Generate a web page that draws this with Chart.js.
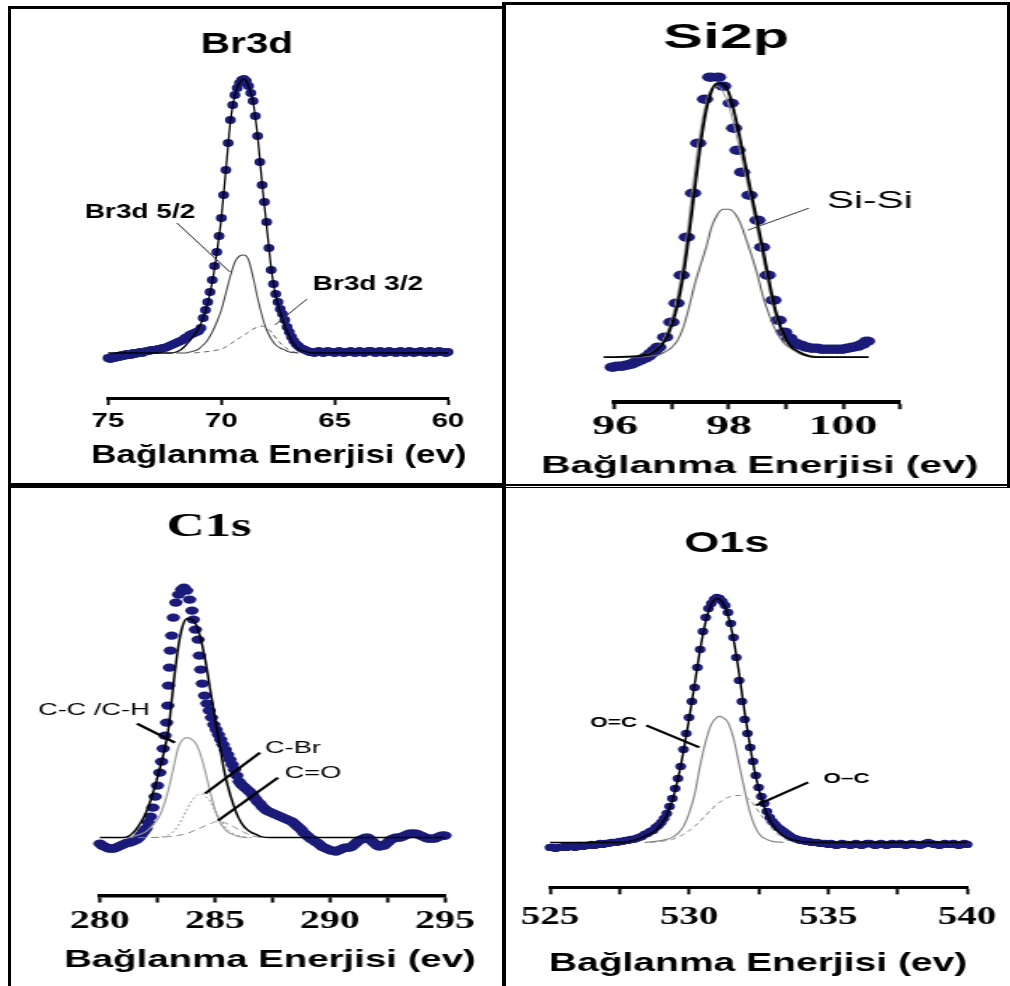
<!DOCTYPE html>
<html lang="tr">
<head>
<meta charset="utf-8">
<title>XPS spektrumları: Br3d, Si2p, C1s, O1s</title>
<script src="https://cdn.jsdelivr.net/npm/chart.js@4.4.1/dist/chart.umd.min.js"></script>
<style>
  html, body { margin: 0; padding: 0; background: #fff; }
  body { position: relative; width: 1010px; height: 986px; overflow: hidden; }
  canvas { position: absolute; transform-origin: 0 0; }
  .cizgi { position: absolute; background: #000; }
</style>
</head>
<body>

<!-- kaynak resim yatayda gerilmiş, bu yüzden tuvaller de scaleX ile geriliyor -->
<canvas id="grafikBr3d" width="337" height="462" style="left:11px; top:11px; transform:scaleX(1.4);"></canvas>
<canvas id="grafikSi2p" width="278" height="476" style="left:508px; top:6px; transform:scaleX(1.7);"></canvas>
<canvas id="grafikC1s" width="295" height="485" style="left:11px; top:492px; transform:scaleX(1.6);"></canvas>
<canvas id="grafikO1s" width="333" height="489" style="left:508px; top:492px; transform:scaleX(1.5);"></canvas>

<!-- çerçeveler -->
<div class="cizgi" style="left:8px; top:6px; width:3px; height:980px;"></div>
<div class="cizgi" style="left:8px; top:6px; width:496px; height:2.5px;"></div>
<div class="cizgi" style="left:502px; top:2px; width:508px; height:3px;"></div>
<div class="cizgi" style="left:502px; top:2px; width:4px; height:984px;"></div>
<div class="cizgi" style="left:1007px; top:2px; width:3px; height:486px;"></div>
<div class="cizgi" style="left:8px; top:483px; width:496px; height:4.5px;"></div>
<div class="cizgi" style="left:506px; top:484px; width:504px; height:1.7px;"></div>
<div class="cizgi" style="left:506px; top:486.8px; width:504px; height:1.5px;"></div>

<script>
const SANS = "'Liberation Sans', Arial, sans-serif";
const SERIF = "'Liberation Serif', 'Times New Roman', serif";
const LACIVERT = "#1b1b7a";
const EKSEN_BASLIGI = "Bağlanma Enerjisi (ev)";

Chart.defaults.font.family = SANS;
Chart.defaults.color = "#000";

// ---- EKSEN ETİKETLERİ ----
const br3dEtiketler = ["75", "70", "65", "60"];
const si2pEtiketler = ["96", "98", "100"];
const c1sEtiketler = ["280", "285", "290", "295"];
const o1sEtiketler = ["525", "530", "535", "540"];

// ---- Br3d ----
// ölçüm noktaları 75 eV'den 60 eV'ye 0.1 eV aralıkla
const br3dBaslangic = 75;
const br3dAdim = -0.1;
const br3dSiddet = [
    40, 39, 41, 40, 42, 41, 43, 42, 44, 43,
    43, 45, 44, 45, 46, 45, 46, 47, 47, 48,
    48, 48, 49, 49, 50, 50, 51, 52, 53, 54,
    55, 56, 57, 58, 60, 61, 63, 64, 65, 66,
    67, 70, 80, 88, 96, 106, 118, 132, 146, 162,
    180, 203, 228, 255, 278, 293, 303, 310, 315, 318,
    319, 317, 312, 305, 297, 282, 262, 236, 213, 196,
    176, 150, 128, 114, 104, 96, 89, 84, 78, 71,
    66, 61, 57, 54, 52, 50, 49, 48, 47, 46,
    46, 45, 46, 47, 46, 45, 46, 47, 46, 46,
    45, 46, 47, 46, 45, 46, 46, 47, 46, 45,
    46, 47, 46, 45, 46, 47, 47, 46, 45, 46,
    47, 46, 45, 46, 47, 46, 46, 45, 46, 47,
    46, 45, 46, 47, 46, 45, 46, 46, 47, 46,
    45, 46, 47, 46, 45, 46, 47, 46, 46, 45,
    46
];
const br3dZarfEnerji = [75, 72.2, 72.0, 71.8, 71.6, 71.4, 71.2, 71.0, 70.8, 70.6, 70.4, 70.2, 70.0, 69.8, 69.6, 69.4, 69.2, 69.0, 68.8, 68.6, 68.4, 68.2, 68.0, 67.8, 67.6, 67.4, 67.2, 67.0, 66.8, 66.6, 66.4, 66.2, 66.0, 60];
const br3dZarfSiddet = [45, 45, 46, 48, 52, 57, 63, 70, 80, 95, 116, 145, 180, 228, 276, 303, 315, 319, 312, 296, 262, 214, 172, 130, 102, 86, 72, 62, 54, 49, 47, 46, 45, 45];
const br3d52Enerji = [72.0, 71.6, 71.4, 71.2, 71.0, 70.8, 70.6, 70.4, 70.2, 70.0, 69.8, 69.6, 69.4, 69.2, 69.0, 68.8, 68.6, 68.4, 68.2, 68.0, 67.8, 67.6, 67.4, 67.2, 67.0, 66.6];
const br3d52Siddet = [45, 45, 46, 47, 49, 53, 58, 66, 76, 88, 105, 122, 136, 142, 143, 138, 121, 100, 82, 68, 59, 53, 50, 48, 46, 45];
const br3d32Enerji = [71.2, 70.8, 70.4, 70.0, 69.8, 69.6, 69.4, 69.2, 69.0, 68.8, 68.6, 68.4, 68.2, 68.0, 67.8, 67.6, 67.4, 67.2, 67.0, 66.8, 66.6];
const br3d32Siddet = [45, 46, 47, 49, 51, 54, 57, 60, 63, 66, 69, 71, 72, 70, 66, 60, 55, 51, 48, 46, 45];

// ---- Si2p ----
const si2pEnerji = [
    95.80, 95.88, 95.96, 96.04, 96.12, 96.20, 96.28, 96.36, 96.44, 96.52,
    96.58, 96.64, 96.70, 96.76, 96.88, 96.99, 97.08, 97.17, 97.26, 97.37,
    97.46, 97.58, 97.67, 97.81, 97.90, 98.03, 98.09, 98.15, 98.23, 98.36,
    98.50, 98.58, 98.68, 98.78, 98.87, 98.97, 99.06, 99.16, 99.26, 99.36,
    99.45, 99.54, 99.63, 99.72, 99.81, 99.90, 99.99, 100.08, 100.17, 100.26,
    100.34, 100.42
];
const si2pSiddet = [
    35, 35, 35, 36, 36, 37, 38, 40, 42, 44,
    46, 49, 52, 55, 65, 80, 99, 127, 165, 209,
    259, 303, 325, 325, 316, 299, 274, 252, 230, 207,
    182, 155, 127, 102, 82, 70, 64, 59, 57, 55,
    54, 54, 53, 53, 53, 53, 53, 54, 55, 56,
    58, 61
];
const si2pZarfEnerji = [95.8, 96.4, 96.5, 96.6, 96.7, 96.8, 96.9, 97.0, 97.1, 97.2, 97.3, 97.4, 97.5, 97.6, 97.7, 97.8, 97.9, 98.0, 98.1, 98.2, 98.3, 98.4, 98.5, 98.6, 98.7, 98.8, 98.9, 99.0, 99.1, 99.2, 99.3, 99.4, 99.5, 100.45];
const si2pZarfSiddet = [45, 46, 47, 48, 51, 56, 64, 78, 98, 128, 168, 214, 258, 292, 312, 319, 318, 309, 288, 262, 234, 206, 179, 151, 122, 95, 76, 63, 55, 51, 48, 46, 45, 45];
const si2pGriEnerji = [96.4, 96.6, 96.8, 97.0, 97.2, 97.4, 97.5, 97.6, 97.7, 97.8, 97.9, 98.0, 98.2, 98.4, 98.6, 98.8, 99.0, 99.2, 99.4, 99.6];
const si2pGriSiddet = [46, 49, 58, 84, 140, 232, 272, 300, 314, 316, 310, 296, 250, 198, 143, 90, 60, 49, 46, 45];
const si2pSiSiEnerji = [96.0, 96.4, 96.6, 96.8, 96.9, 97.0, 97.1, 97.2, 97.3, 97.4, 97.5, 97.6, 97.7, 97.8, 97.9, 98.0, 98.1, 98.2, 98.3, 98.4, 98.5, 98.6, 98.7, 98.8, 98.9, 99.0, 99.2, 99.4, 99.7, 100.4];
const si2pSiSiSiddet = [45, 45, 46, 48, 51, 55, 62, 75, 95, 118, 137, 155, 176, 188, 193, 193, 189, 179, 163, 146, 127, 105, 88, 74, 64, 57, 51, 47, 45, 45];

// ---- C1s ----
const c1sEnerji = [
    280.0, 280.1, 280.2, 280.3, 280.4, 280.5, 280.6, 280.7, 280.8, 280.9,
    281.0, 281.1, 281.2, 281.3, 281.4, 281.5, 281.6, 281.7, 281.8, 281.9,
    282.0, 282.1, 282.2, 282.3, 282.4, 282.5, 282.6, 282.68, 282.75, 282.83,
    282.9, 282.95, 282.98, 283.02, 283.06, 283.12, 283.19, 283.3, 283.42, 283.55,
    283.65, 283.77, 283.9, 284.0, 284.06, 284.15, 284.27, 284.32, 284.38, 284.45,
    284.55, 284.65, 284.75, 284.85, 284.95, 285.05, 285.15, 285.25, 285.35, 285.45,
    285.55, 285.65, 285.75, 285.85, 285.95, 286.05, 286.15, 286.25, 286.35, 286.45,
    286.55, 286.65, 286.75, 286.85, 286.95, 287.05, 287.15, 287.25, 287.35, 287.45,
    287.55, 287.65, 287.75, 287.85, 287.95, 288.05, 288.15, 288.25, 288.35, 288.45,
    288.55, 288.65, 288.75, 288.85, 288.95, 289.05, 289.15, 289.25, 289.35, 289.45,
    289.55, 289.65, 289.75, 289.85, 289.95, 290.05, 290.15, 290.25, 290.35, 290.45,
    290.55, 290.65, 290.75, 290.85, 290.95, 291.05, 291.15, 291.25, 291.35, 291.45,
    291.55, 291.65, 291.75, 291.85, 291.95, 292.05, 292.15, 292.25, 292.35, 292.45,
    292.55, 292.65, 292.75, 292.85, 292.95, 293.05, 293.15, 293.25, 293.35, 293.45,
    293.55, 293.65, 293.75, 293.85, 293.95, 294.05, 294.15, 294.25, 294.35, 294.45,
    294.55, 294.65, 294.75, 294.85, 294.95, 295.0
];
const c1sSiddet = [
    52, 50, 49, 48, 47, 47, 47, 48, 49, 50,
    51, 52, 53, 53, 54, 55, 56, 58, 61, 64,
    67, 73, 79, 88, 99, 110, 123, 134, 147, 160,
    173, 190, 210, 228, 245, 260, 278, 293, 301, 306,
    308, 305, 296, 285, 276, 266, 256, 240, 226, 212,
    200, 192, 185, 178, 171, 166, 161, 156, 151, 146,
    141, 136, 131, 126, 120, 114, 111, 109, 107, 105,
    103, 100, 97, 94, 92, 89, 87, 85, 84, 83,
    82, 81, 80, 79, 78, 77, 76, 75, 74, 72,
    70, 68, 66, 63, 61, 59, 57, 56, 54, 53,
    51, 49, 48, 47, 46, 45, 45, 44, 45, 46,
    47, 48, 48, 48, 49, 51, 53, 55, 56, 57,
    58, 58, 56, 54, 52, 50, 49, 50, 50, 52,
    54, 56, 57, 58, 58, 58, 59, 60, 61, 62,
    62, 62, 62, 61, 60, 59, 58, 57, 57, 57,
    57, 58, 59, 60, 60, 60
];
const c1sZarfEnerji = [280.0, 281.0, 281.2, 281.4, 281.6, 281.8, 282.0, 282.2, 282.4, 282.6, 282.8, 283.0, 283.2, 283.4, 283.6, 283.8, 284.0, 284.2, 284.4, 284.6, 284.8, 285.0, 285.2, 285.4, 285.6, 285.8, 286.0, 286.2, 286.4, 286.6, 286.8, 287.0, 287.4, 295.0];
const c1sZarfSiddet = [58, 58, 59, 62, 67, 74, 83, 95, 110, 127, 145, 170, 212, 248, 270, 277, 276, 270, 255, 233, 205, 178, 151, 125, 106, 91, 79, 71, 66, 63, 61, 59, 58, 58];
const c1sCCEnerji = [281.0, 281.6, 282.0, 282.2, 282.4, 282.6, 282.8, 283.0, 283.2, 283.4, 283.6, 283.8, 284.0, 284.2, 284.4, 284.6, 284.8, 285.0, 285.2, 285.4, 285.6, 285.8, 286.0, 286.4];
const c1sCCSiddet = [58, 60, 64, 68, 73, 80, 92, 108, 128, 148, 156, 158, 156, 151, 139, 122, 103, 86, 74, 67, 63, 61, 59, 58];
const c1sCBrEnerji = [282.4, 282.8, 283.0, 283.2, 283.4, 283.6, 283.8, 284.0, 284.2, 284.4, 284.6, 284.8, 285.0, 285.2, 285.4, 285.6, 285.8, 286.2, 286.6];
const c1sCBrSiddet = [58, 59, 61, 64, 70, 78, 87, 95, 100, 102, 99, 94, 85, 77, 70, 65, 62, 59, 58];
const c1sCOEnerji = [280.0, 282.0, 283.0, 283.6, 284.0, 284.4, 284.8, 285.1, 285.4, 285.8, 286.2, 286.6, 287.0];
const c1sCOSiddet = [58, 58, 59, 61, 64, 68, 72, 74, 73, 69, 64, 60, 58];

// ---- O1s ----
// ölçüm noktaları 525 eV'den 540 eV'ye 0.1 eV aralıkla
const o1sBaslangic = 525;
const o1sAdim = 0.1;
const o1sSiddet = [
    40, 40, 39, 40, 40, 41, 40, 41, 41, 40,
    41, 42, 41, 42, 42, 43, 42, 43, 44, 43,
    44, 44, 45, 45, 45, 46, 46, 47, 47, 48,
    48, 49, 50, 51, 53, 54, 56, 57, 60, 62,
    65, 69, 74, 81, 89, 99, 109, 121, 138, 154,
    170, 186, 200, 220, 238, 256, 270, 279, 284, 288,
    290, 289, 286, 282, 275, 264, 250, 230, 207, 186,
    168, 154, 140, 126, 112, 100, 91, 84, 76, 70,
    66, 63, 60, 58, 56, 54, 52, 50, 49, 48,
    47, 47, 46, 46, 45, 45, 45, 44, 44, 44,
    43, 44, 43, 42, 43, 44, 43, 43, 42, 43,
    44, 43, 42, 43, 44, 44, 43, 42, 43, 44,
    43, 42, 43, 44, 43, 43, 44, 43, 42, 43,
    44, 43, 43, 42, 43, 44, 45, 44, 43, 43,
    42, 43, 44, 43, 43, 44, 43, 42, 43, 44,
    43
];
const o1sZarfEnerji = [525, 527.6, 528.0, 528.4, 528.8, 529.0, 529.2, 529.4, 529.6, 529.8, 530.0, 530.2, 530.4, 530.6, 530.8, 531.0, 531.2, 531.4, 531.6, 531.8, 532.0, 532.2, 532.4, 532.6, 532.8, 533.0, 533.2, 533.4, 533.8, 534.4, 540];
const o1sZarfSiddet = [45, 45, 47, 51, 57, 63, 72, 87, 108, 136, 168, 203, 238, 266, 283, 289, 285, 272, 248, 214, 175, 140, 111, 89, 73, 63, 56, 51, 47, 45, 45];
const o1sOCiftEnerji = [528.4, 528.8, 529.2, 529.4, 529.6, 529.8, 530.0, 530.2, 530.4, 530.6, 530.8, 531.0, 531.1, 531.2, 531.4, 531.6, 531.8, 532.0, 532.2, 532.4, 532.6, 532.8, 533.0, 533.4];
const o1sOCiftSiddet = [45, 46, 48, 50, 54, 61, 74, 93, 122, 146, 163, 170, 171, 170, 165, 149, 123, 97, 74, 59, 51, 48, 46, 45];
const o1sOTekEnerji = [528.6, 529.0, 529.4, 529.8, 530.2, 530.6, 531.0, 531.4, 531.8, 532.2, 532.6, 533.0, 533.4, 533.8];
const o1sOTekSiddet = [45, 46, 48, 53, 61, 72, 83, 90, 92, 87, 72, 58, 49, 45];

// ---- YARDIMCILAR ----
function seri(enerjiler, siddetler) {
    return enerjiler.map((e, i) => ({ x: e, y: siddetler[i] }));
}

function izgaraSeri(baslangic, adim, siddetler) {
    return siddetler.map((v, i) => ({ x: Math.round((baslangic + i * adim) * 100) / 100, y: v }));
}

function noktaSeti(veri, yaricap) {
    return {
        data: veri,
        showLine: false,
        pointRadius: yaricap,
        pointHoverRadius: yaricap,
        pointBackgroundColor: LACIVERT,
        pointBorderWidth: 0,
        clip: false
    };
}

function egriSeti(veri, renk, kalinlik, kesik) {
    return {
        data: veri,
        showLine: true,
        pointRadius: 0,
        pointHoverRadius: 0,
        borderColor: renk,
        borderWidth: kalinlik,
        borderDash: kesik || [],
        cubicInterpolationMode: "monotone",
        fill: false,
        clip: false
    };
}

// başlıklar, eksen başlığı ve ok etiketleri veri koordinatlarında çiziliyor
// (Chart.js eksen başlığını eksen genişliğine sıkıştırdığı için)
function notEklentisi(notlar) {
    return {
        id: "notlar",
        afterDraw(chart) {
            const { ctx, scales: { x, y } } = chart;
            ctx.save();
            notlar.forEach(n => {
                if (n.cizgi) {
                    ctx.strokeStyle = n.renk || "#000";
                    ctx.lineWidth = n.kalinlik || 1;
                    ctx.beginPath();
                    ctx.moveTo(x.getPixelForValue(n.cizgi[0]), y.getPixelForValue(n.cizgi[1]));
                    ctx.lineTo(x.getPixelForValue(n.cizgi[2]), y.getPixelForValue(n.cizgi[3]));
                    ctx.stroke();
                }
                ctx.font = n.font;
                ctx.fillStyle = "#000";
                ctx.textAlign = "center";
                ctx.textBaseline = "middle";
                ctx.fillText(n.metin, x.getPixelForValue(n.x), y.getPixelForValue(n.y));
            });
            ctx.restore();
        }
    };
}

function panelCiz(kimlik, a, setler, notlar) {
    const ctx = document.getElementById(kimlik).getContext("2d");
    return new Chart(ctx, {
        type: "scatter",
        data: { datasets: setler },
        options: {
            responsive: false,
            animation: false,
            events: [],
            layout: { padding: a.bosluk },
            plugins: {
                legend: { display: false },
                tooltip: { enabled: false },
                title: { display: false }
            },
            scales: {
                x: {
                    type: "linear",
                    min: a.min,
                    max: a.max,
                    reverse: !!a.ters,
                    border: { display: true, color: "#000", width: a.eksenKalinlik },
                    grid: { display: true, drawOnChartArea: false, drawTicks: true, tickLength: 7, tickWidth: 2, tickColor: "#000" },
                    ticks: {
                        stepSize: a.adim,
                        autoSkip: false,
                        maxRotation: 0,
                        padding: a.tikBosluk,
                        color: "#000",
                        font: a.tikFont,
                        callback: v => a.etiketler.includes(String(v)) ? String(v) : ""
                    },
                    title: { display: false }
                },
                y: { display: false, min: 0, max: a.yMax }
            }
        },
        plugins: [notEklentisi(notlar)]
    });
}

// ---- Br3d ----
panelCiz("grafikBr3d", {
    min: 60, max: 75, ters: true, adim: 5, etiketler: br3dEtiketler, yMax: 336,
    bosluk: { top: 51, left: 69.3, right: 24.9, bottom: 36 },
    eksenKalinlik: 3,
    tikFont: { family: SANS, size: 21, weight: "bold" }, tikBosluk: 3.4
}, [
    egriSeti(seri(br3dZarfEnerji, br3dZarfSiddet), "#000", 1.3),
    egriSeti(seri(br3d52Enerji, br3d52Siddet), "#444", 1.1),
    egriSeti(seri(br3d32Enerji, br3d32Siddet), "#666", 1, [4, 3]),
    noktaSeti(izgaraSeri(br3dBaslangic, br3dAdim, br3dSiddet), 3.9)
], [
    { metin: "Br3d", x: 68.87, y: 353, font: "bold 29px " + SANS },
    { metin: EKSEN_BASLIGI, x: 67.46, y: -58, font: "bold 25px " + SANS },
    { metin: "Br3d 5/2", x: 73.59, y: 186, font: "bold 20px " + SANS, cizgi: [71.96, 175, 69.62, 126], renk: "#333", kalinlik: 1 },
    { metin: "Br3d 3/2", x: 63.53, y: 114, font: "bold 20px " + SANS, cizgi: [66.22, 99, 67.63, 73], renk: "#333", kalinlik: 1 }
]);

// ---- Si2p ----
panelCiz("grafikSi2p", {
    min: 96, max: 101, adim: 1, etiketler: si2pEtiketler, yMax: 343.2,
    bosluk: { top: 53, left: 62.9, right: 47.4, bottom: 36.8 },
    eksenKalinlik: 4,
    tikFont: { family: SERIF, size: 27, weight: "bold" }, tikBosluk: 1.8
}, [
    egriSeti(seri(si2pZarfEnerji, si2pZarfSiddet), "#000", 1.8),
    egriSeti(seri(si2pGriEnerji, si2pGriSiddet), "#999", 1),
    egriSeti(seri(si2pSiSiEnerji, si2pSiSiSiddet), "#666", 1.1),
    noktaSeti(seri(si2pEnerji, si2pSiddet), 4.8)
], [
    { metin: "Si2p", x: 97.95, y: 364, font: "bold 35px " + SANS },
    { metin: EKSEN_BASLIGI, x: 98.54, y: -64, font: "bold 24px " + SANS },
    { metin: "Si-Si", x: 100.47, y: 201, font: "24px " + SANS, cizgi: [99.4, 194, 98.33, 172], renk: "#333", kalinlik: 1 }
]);

// ---- C1s ----
panelCiz("grafikC1s", {
    min: 280, max: 295, adim: 2.5, etiketler: c1sEtiketler, yMax: 348.6,
    bosluk: { top: 55, left: 55.6, right: 23.75, bottom: 36.4 },
    eksenKalinlik: 3.5,
    tikFont: { family: SERIF, size: 25, weight: "bold" }, tikBosluk: 4
}, [
    egriSeti(seri(c1sZarfEnerji, c1sZarfSiddet), "#000", 1.5),
    egriSeti(seri(c1sCCEnerji, c1sCCSiddet), "#999", 1.1),
    egriSeti(seri(c1sCBrEnerji, c1sCBrSiddet), "#999", 1, [2, 2]),
    egriSeti(seri(c1sCOEnerji, c1sCOSiddet), "#888", 1, [5, 3]),
    noktaSeti(seri(c1sEnerji, c1sSiddet), 4.2)
], [
    { metin: "C1s", x: 284.74, y: 368, font: "bold 33px " + SERIF },
    { metin: EKSEN_BASLIGI, x: 287.39, y: -65, font: "bold 24px " + SANS },
    { metin: "C-C /C-H", x: 279.74, y: 185, font: "17px " + SANS, cizgi: [281.61, 172, 283.26, 153], kalinlik: 2.2 },
    { metin: "C-Br", x: 288.39, y: 147, font: "17px " + SANS, cizgi: [286.96, 143, 284.57, 102], kalinlik: 2.2 },
    { metin: "C=O", x: 289.26, y: 122, font: "17px " + SANS, cizgi: [287.74, 118, 285.13, 75], kalinlik: 2.2 }
]);

// ---- O1s ----
panelCiz("grafikO1s", {
    min: 525, max: 540, adim: 2.5, etiketler: o1sEtiketler, yMax: 326.4,
    bosluk: { top: 69, left: 28, right: 21.7, bottom: 40.6 },
    eksenKalinlik: 3,
    tikFont: { family: SERIF, size: 26, weight: "bold" }, tikBosluk: 7.4
}, [
    egriSeti(seri(o1sZarfEnerji, o1sZarfSiddet), "#000", 1.5),
    egriSeti(seri(o1sOCiftEnerji, o1sOCiftSiddet), "#888", 1.2),
    egriSeti(seri(o1sOTekEnerji, o1sOTekSiddet), "#888", 1, [4, 3]),
    noktaSeti(izgaraSeri(o1sBaslangic, o1sAdim, o1sSiddet), 3.6)
], [
    { metin: "O1s", x: 531.35, y: 344, font: "bold 30px " + SANS },
    { metin: EKSEN_BASLIGI, x: 532.48, y: -76, font: "bold 26px " + SANS },
    { metin: "O=C", x: 527.29, y: 165, font: "bold 15px " + SANS, cizgi: [528.46, 162, 530.37, 140], kalinlik: 2.2 },
    { metin: "O–C", x: 535.66, y: 109, font: "bold 15px " + SANS, cizgi: [534.28, 105, 532.41, 82], kalinlik: 2.2 }
]);
</script>
</body>
</html>
